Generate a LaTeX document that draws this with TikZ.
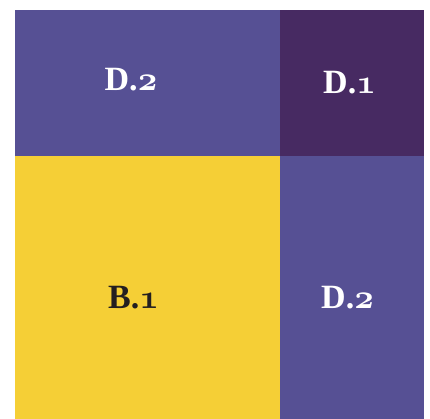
\documentclass[tikz,border=0pt]{standalone}
\usepackage{fontspec}
\usepackage{tikz}

\newfontfamily\tilefont{Liberation Serif}
\DeclareFontShape{OML}{cmm}{b}{it}{<->cmmib10}{}
\newcommand\tilenum[1]{{\usefont{OML}{cmm}{b}{it}#1}}

\definecolor{tilepurple}{HTML}{565094}
\definecolor{tiledark}{HTML}{472A62}
\definecolor{tileyellow}{HTML}{F5CF36}
\definecolor{tileink}{HTML}{231F20}

\begin{document}
\begin{tikzpicture}[x=1pt,y=-1pt,
  tilelabel/.style={anchor=base,inner sep=0pt,
    font=\fontsize{34}{40}\selectfont\tilefont\bfseries}]
  \fill[white] (0,0) rectangle (430,419);
  \useasboundingbox (0,0) rectangle (430,419);
  % tiles
  \fill[tilepurple] (15,10) rectangle (280,156);
  \fill[tiledark] (280,10) rectangle (424,156);
  \fill[tileyellow] (15,156) rectangle (280,419);
  \fill[tilepurple] (280,156) rectangle (424,419);
  % labels
  \node[tilelabel,text=white] (dtwotop) at (131,91) {D.\tilenum{2}};
  \node[tilelabel,text=white] (done) at (349.5,94) {D.\tilenum{1}};
  \node[tilelabel,text=tileink] (bone) at (133.5,308) {B.\tilenum{1}};
  \node[tilelabel,text=white] (dtwobottom) at (347.5,308) {D.\tilenum{2}};
\end{tikzpicture}
\end{document}
